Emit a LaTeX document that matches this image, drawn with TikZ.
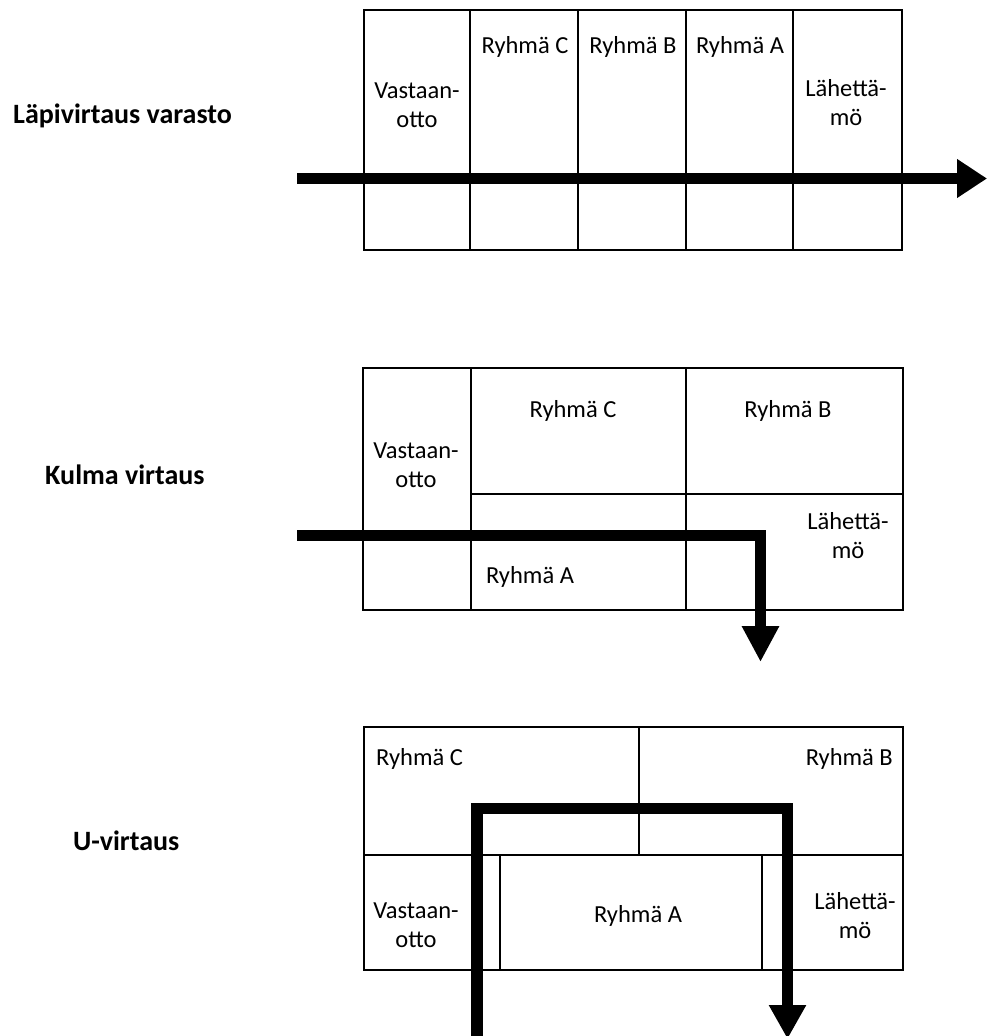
\documentclass[tikz,border=0pt]{standalone}
\usepackage{fontspec}
\setmainfont{Carlito}
\usetikzlibrary{arrows.meta}

\tikzset{
  wall/.style={draw=black, line width=2.6pt},
  cell/.style={font=\fontsize{24.5}{29}\selectfont, align=center, inner sep=0pt, anchor=base},
  title/.style={font=\fontsize{28}{34}\selectfont\bfseries, inner sep=0pt, anchor=base west},
  flow/.style={line width=11.5pt, miter limit=10, line join=miter},
}

\begin{document}
\begin{tikzpicture}[x=1pt, y=-1pt]
\useasboundingbox (0,0) rectangle (987,1036);
\fill[white] (0,0) rectangle (987,1036);

% ---------- Läpivirtaus varasto ----------
% (two-line labels are placed by the baseline of their last line)
\node[title] (t1) at (13,123) {Läpivirtaus varasto};
\draw[wall] (364,10) rectangle (902,250);
\foreach \x in {470,578,686,793} \draw[wall] (\x,10) -- (\x,250);
\node[cell] (a1) at (417,127) {Vastaan-\\otto};
\node[cell] (a2) at (525,53) {Ryhmä C};
\node[cell] (a3) at (633,53) {Ryhmä B};
\node[cell] (a4) at (740,53) {Ryhmä A};
\node[cell] (a5) at (846,125) {Lähettä-\\mö};
\coordinate (p1s) at (297,178.5);
\coordinate (p1e) at (987,178.5);
\draw[flow, -{Triangle[length=30pt, width=37pt]}] (p1s) -- (p1e);

% ---------- Kulma virtaus ----------
\node[title] (t2) at (45,484) {Kulma virtaus};
\draw[wall] (363,368) rectangle (903,610);
\draw[wall] (471,368) -- (471,610);
\draw[wall] (686,368) -- (686,610);
\draw[wall] (471,494) -- (903,494);
\node[cell] (b1) at (416,487) {Vastaan-\\otto};
\node[cell] (b2) at (573,417) {Ryhmä C};
\node[cell] (b3) at (788,417) {Ryhmä B};
\node[cell] (b4) at (530,583) {Ryhmä A};
\node[cell] (b5) at (848,558) {Lähettä-\\mö};
\coordinate (p2s) at (297,535.5);
\coordinate (p2c) at (760.5,535.5);
\coordinate (p2e) at (760.5,662);
\draw[flow, -{Triangle[length=36pt, width=35pt]}] (p2s) -- (p2c) -- (p2e);

% ---------- U-virtaus ----------
\node[title] (t3) at (73,850) {U-virtaus};
\draw[wall] (364,727) rectangle (903,970);
\draw[wall] (364,855) -- (903,855);
\draw[wall] (639,727) -- (639,855);
\draw[wall] (500,855) -- (500,970);
\draw[wall] (762,855) -- (762,970);
\node[cell, anchor=base west] (c1) at (376,765) {Ryhmä C};
\node[cell, anchor=base east] (c2) at (893,765) {Ryhmä B};
\node[cell] (c3) at (416,947) {Vastaan-\\otto};
\node[cell] (c4) at (638,922) {Ryhmä A};
\node[cell] (c5) at (855,938) {Lähettä-\\mö};
\coordinate (p3s) at (477,1045);
\coordinate (p3a) at (477,808.5);
\coordinate (p3b) at (787.5,808.5);
\coordinate (p3e) at (787.5,1039);
\draw[flow, -{Triangle[length=34pt, width=35pt]}] (p3s) -- (p3a) -- (p3b) -- (p3e);
\end{tikzpicture}
\end{document}
